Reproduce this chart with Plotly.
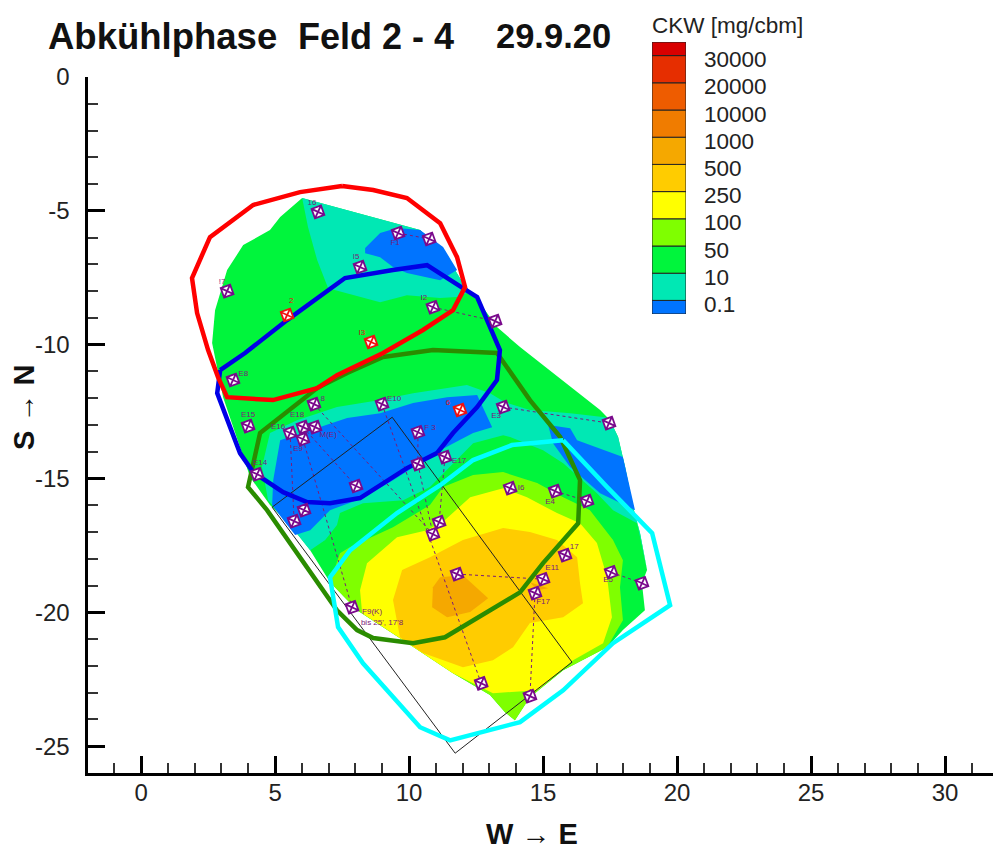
import plotly.graph_objects as go

FONT = "Liberation Sans"
W, H = 993, 854

# filled contour regions, painted from outer to inner
region_50 = ([6.01,7.91,9.40,10.41,11.42,12.01,12.65,13.28,14.14,17.13,17.50,17.80,18.06,18.36,18.62,18.88,18.69,18.80,17.98,17.39,15.75,14.51,13.95,13.58,13.02,11.64,9.78,8.06,7.05,6.31,5.56,4.81,4.07,3.69,3.06,2.65,2.76,3.21,3.81,4.81,5.19],
             [-4.52,-5.04,-5.42,-5.72,-6.73,-7.70,-8.45,-9.34,-10.09,-12.44,-12.82,-13.45,-14.57,-16.07,-17.04,-18.42,-18.91,-19.92,-20.66,-21.30,-22.16,-23.17,-24.03,-23.73,-23.09,-22.27,-21.04,-19.92,-18.87,-17.68,-16.74,-15.99,-14.95,-13.83,-11.96,-9.94,-8.71,-7.21,-6.28,-5.72,-5.23])
region_10_north = ([6.01,7.91,9.40,10.41,11.42,12.01,12.57,12.16,11.79,11.16,9.92,8.92,6.98,6.57,6.23],
                   [-4.52,-5.04,-5.42,-5.72,-6.73,-7.70,-8.33,-8.07,-8.22,-8.26,-8.15,-8.41,-7.89,-6.84,-5.61])
region_01_north = ([8.36,8.92,9.55,10.41,11.27,11.79,11.16,9.92,9.40,8.92,8.36],
                   [-6.39,-5.83,-5.64,-5.72,-6.35,-7.21,-7.59,-7.32,-7.10,-6.73,-6.58])
region_10_mid = ([4.74,4.51,4.81,5.82,7.31,8.92,10.15,12.16,13.02,13.58,14.51,16.01,17.31,17.50,17.80,18.06,18.36,18.62,18.88,18.51,17.61,17.01,15.75,15.00,13.77,13.51,12.39,11.53,10.78,9.78,8.28,7.42,7.31,6.87,6.31,5.56],
                 [-15.81,-14.57,-13.30,-12.82,-12.33,-12.07,-11.81,-11.51,-11.81,-12.15,-12.44,-12.56,-12.71,-12.82,-13.45,-14.57,-16.07,-17.04,-18.42,-16.67,-16.18,-15.55,-14.43,-13.94,-13.45,-13.38,-13.68,-14.57,-15.32,-15.81,-15.92,-16.29,-16.74,-17.30,-17.68,-16.74])
region_01_mid = ([4.89,4.93,5.19,5.56,6.68,7.69,8.92,10.15,11.42,12.54,13.10,12.39,11.16,10.41,9.40,8.28,7.05,6.31,5.75,5.37],
                 [-15.99,-15.06,-13.57,-13.45,-13.08,-12.74,-12.56,-12.18,-11.96,-11.88,-13.08,-13.30,-13.94,-14.43,-15.06,-15.73,-16.18,-16.93,-17.11,-16.63])
region_01_east = ([15.19,16.01,16.27,17.98,18.43,17.13,16.01,15.37],
                  [-13.00,-13.12,-13.57,-14.20,-16.18,-15.55,-14.57,-13.68])
region_100 = ([7.05,7.42,7.80,9.40,10.78,11.27,12.39,13.51,14.78,15.75,16.75,17.61,17.98,17.87,17.98,17.39,15.75,14.51,13.95,13.58,13.02,11.64,9.78,8.06],
              [-18.87,-17.79,-17.56,-16.82,-15.99,-15.32,-14.87,-14.76,-15.17,-15.70,-16.18,-17.30,-18.05,-19.06,-20.29,-21.30,-22.16,-23.17,-24.03,-23.73,-23.09,-22.27,-21.04,-19.92])
region_250 = ([8.17,8.43,9.55,10.67,11.34,12.28,13.51,14.40,15.52,16.38,17.01,17.39,17.57,17.24,16.12,14.78,13.13,11.64,9.78,8.25],
              [-19.17,-18.16,-17.19,-16.93,-16.55,-15.70,-15.36,-15.70,-16.29,-16.67,-17.41,-18.69,-20.18,-21.15,-21.79,-22.91,-23.02,-22.27,-21.04,-20.03])
region_500 = ([9.40,9.74,10.78,12.01,13.51,14.51,15.52,16.27,16.38,16.49,15.75,14.51,13.88,13.13,12.01,10.52,9.66],
              [-19.54,-18.42,-17.94,-17.30,-16.85,-17.00,-17.30,-17.94,-18.91,-19.66,-20.18,-20.40,-21.30,-21.79,-22.05,-21.52,-20.93])
region_1000 = ([10.89,11.16,12.01,12.95,12.28,11.42,10.86],
               [-19.06,-18.69,-18.61,-19.47,-19.99,-20.18,-19.81])
region_1000_small = ([14.51,15.19,14.78], [-18.87,-19.10,-19.17])

# outlines
outline_red = ([7.50,5.93,4.18,2.57,1.90,2.09,2.50,2.87,3.21,4.92,6.57,7.31,9.03,10.52,11.64,12.09,11.79,11.16,9.92,8.66,7.50],
               [-4.07,-4.30,-4.78,-5.98,-7.51,-8.82,-10.20,-11.21,-11.96,-12.07,-11.62,-11.14,-10.31,-9.45,-8.71,-7.85,-6.73,-5.46,-4.52,-4.22,-4.07])
outline_blue = ([2.95,3.88,5.45,6.94,7.61,9.40,10.67,12.01,12.54,13.39,13.28,12.54,11.64,11.04,9.92,8.17,7.05,6.19,5.30,4.18,3.69,2.84,2.95],
                [-10.95,-10.31,-9.08,-8.03,-7.51,-7.21,-7.03,-7.89,-8.22,-10.20,-11.32,-12.33,-13.30,-14.05,-14.61,-15.73,-15.92,-15.88,-15.51,-14.76,-14.05,-11.81,-10.95])
outline_green = ([9.03,10.89,13.28,14.14,14.51,15.64,16.38,16.31,15.00,14.14,11.34,10.15,8.66,8.06,7.31,4.70,3.99,4.44,5.56,6.57,7.69,9.03],
                 [-10.46,-10.20,-10.31,-11.58,-12.07,-13.45,-15.06,-16.67,-18.16,-19.25,-20.93,-21.15,-20.96,-20.66,-19.92,-16.18,-15.32,-13.30,-12.44,-11.62,-11.06,-10.46])
outline_cyan = ([15.75,13.84,12.39,11.16,9.55,7.80,7.05,7.35,8.28,9.40,10.41,11.53,14.14,15.75,17.61,19.74,19.07,17.39,15.75],
                [-13.57,-13.75,-14.31,-15.25,-16.29,-17.68,-18.69,-20.55,-21.90,-23.17,-24.29,-24.78,-24.10,-22.91,-21.15,-19.73,-17.04,-15.32,-13.57])
field_rect = ([9.37,16.08,11.72,4.89,9.37], [-12.71,-21.86,-25.26,-16.07,-12.71])

# measuring points
wells_x = [6.60,3.21,8.17,9.59,10.75,10.89,13.21,3.43,6.45,8.99,13.51,10.33,3.99,5.56,6.04,6.49,6.04,4.33,8.02,10.33,11.34,6.08,5.71,13.77,15.45,16.64,17.46,11.12,10.89,11.79,15.82,15.00,14.70,17.54,18.69,7.87,12.69,14.51]
wells_y = [-5.04,-8.00,-7.10,-5.83,-6.05,-8.60,-9.12,-11.32,-12.22,-12.22,-12.33,-13.27,-13.04,-13.30,-13.08,-13.08,-13.53,-14.84,-15.28,-14.46,-14.20,-16.18,-16.59,-15.36,-15.47,-15.84,-12.93,-16.63,-17.08,-18.57,-17.86,-18.76,-19.28,-18.50,-18.91,-19.81,-22.65,-23.13]
red_wells_x = [5.45,8.58,11.90]
red_wells_y = [-8.89,-9.90,-12.44]

well_labels = ["16","!7","I5","F1","I2","E8","8","E10","E3","F 3","E15","E16","E18","M(E)","E9","E14","E17","I6","E4","17","E11","F17","E5","F9(K)","bis 25', 17'8"]
well_labels_x = [6.38,3.02,8.02,9.48,10.55,3.81,6.78,9.44,13.25,10.78,3.99,5.11,5.82,6.98,5.86,4.44,11.87,14.18,15.26,16.16,15.34,15.00,17.43,8.62,8.99]
well_labels_y = [-4.71,-7.66,-6.73,-6.20,-8.26,-11.10,-12.03,-12.03,-12.67,-13.12,-12.63,-13.08,-12.63,-13.38,-13.90,-14.42,-14.35,-15.36,-15.88,-17.56,-18.35,-19.62,-18.80,-19.99,-20.40]
red_labels = ["2","I3","6"]
red_labels_x = [5.60,8.24,11.45]
red_labels_y = [-8.37,-9.57,-12.18]

# dotted connectors between measuring points, None separated
link_x = [6.45,10.89,None,8.99,12.69,None,10.33,10.33,None,11.34,11.12,None,13.51,17.46,None,10.89,13.21,None,9.59,10.75,None,15.45,16.64,None,11.79,15.00,None,17.54,18.69,None,14.70,14.51,None,6.04,8.02,None,5.56,5.71,None,6.04,7.87,None,10.33,10.89]
link_y = [-12.22,-17.08,None,-12.22,-22.65,None,-13.27,-14.46,None,-14.20,-16.63,None,-12.33,-12.93,None,-8.60,-9.12,None,-5.83,-6.05,None,-15.47,-15.84,None,-18.57,-18.76,None,-18.50,-18.91,None,-19.28,-23.13,None,-13.08,-15.28,None,-13.30,-16.59,None,-13.53,-19.81,None,-14.46,-17.08]

# axis ticks
x_ticks = [0,5,10,15,20,25,30]
x_tick_text = ["0","5","10","15","20","25","30"]
y_ticks = [0,-5,-10,-15,-20,-25]
y_tick_text = ["0","-5","-10","-15","-20","-25"]

# legend
legend_colors = ["#0074FF","#00E8B4","#00F53C","#7FFF00","#FFFF00","#FFCC00","#F5A800","#F07C00","#EE5C00","#E62E00","#D90000"]
legend_heights = [0.5,1,1,1,1,1,1,1,1,1,0.5]
legend_bases = [0,0.5,1.5,2.5,3.5,4.5,5.5,6.5,7.5,8.5,9.5]
legend_labels = ["0.1","10","50","100","250","500","1000","10000","20000","30000"]
legend_label_pos = [0.5,1.5,2.5,3.5,4.5,5.5,6.5,7.5,8.5,9.5]

C_BLUE, C_TEAL, C_GREEN, C_LIME, C_YEL, C_GOLD, C_ORG = legend_colors[:7]
fills = [(region_50,C_GREEN),(region_10_north,C_TEAL),(region_01_north,C_BLUE),(region_10_mid,C_TEAL),
         (region_01_mid,C_BLUE),(region_01_east,C_BLUE),(region_100,C_LIME),(region_250,C_YEL),
         (region_500,C_GOLD),(region_1000,C_ORG),(region_1000_small,C_ORG)]

fig = go.Figure()
for (xs, ys), col in fills:
    fig.add_trace(go.Scatter(x=xs, y=ys, mode="lines", fill="toself", fillcolor=col,
                             line=dict(width=0, color=col), hoverinfo="skip", showlegend=False))
fig.add_trace(go.Scatter(x=link_x, y=link_y, mode="lines", line=dict(color="#7A1A7A", width=1, dash="dot"),
                         showlegend=False, connectgaps=False))
fig.add_trace(go.Scatter(x=field_rect[0], y=field_rect[1], mode="lines", line=dict(color="#222222", width=1), showlegend=False))
for (xs, ys), col in [(outline_green,"#2A8C00"),(outline_cyan,"#00FFFF"),(outline_blue,"#0000E6"),(outline_red,"#FF0000")]:
    fig.add_trace(go.Scatter(x=xs, y=ys, mode="lines", line=dict(color=col, width=4.5), showlegend=False))
fig.add_trace(go.Scatter(x=wells_x, y=wells_y, mode="markers", showlegend=False,
                         marker=dict(symbol="square-x", size=10, color="white", angle=-20, line=dict(color="#7A0A8C", width=1.8))))
fig.add_trace(go.Scatter(x=red_wells_x, y=red_wells_y, mode="markers", showlegend=False,
                         marker=dict(symbol="square-x", size=10, color="white", angle=-20, line=dict(color="#F01010", width=1.8))))
fig.add_trace(go.Scatter(x=well_labels_x, y=well_labels_y, mode="text", text=well_labels, showlegend=False,
                         textfont=dict(family=FONT, size=8, color="#7A1A7A")))
fig.add_trace(go.Scatter(x=red_labels_x, y=red_labels_y, mode="text", text=red_labels, showlegend=False,
                         textfont=dict(family=FONT, size=8, color="#E01010")))

fig.add_trace(go.Bar(x=[0]*len(legend_heights), y=legend_heights, base=legend_bases, xaxis="x2", yaxis="y2",
                     width=1, marker=dict(color=legend_colors, line=dict(color="#222222", width=1)),
                     showlegend=False, hoverinfo="skip"))

annotations = []
for lab, pos in zip(legend_labels, legend_label_pos):
    annotations.append(dict(text=lab, xref="paper", yref="y2", x=702/W, y=pos, yshift=-4, xanchor="left",
                            yanchor="middle", showarrow=False, font=dict(family=FONT, size=22.5, color="#222222")))
annotations.append(dict(text="CKW [mg/cbm]", xref="paper", yref="paper", x=650/W, y=1-25/H, xanchor="left",
                        yanchor="middle", showarrow=False, font=dict(family=FONT, size=22.5, color="#222222")))
for txt, px, fs in [("Abkühlphase", 46, 36.5), ("Feld 2 - 4", 296, 36), ("29.9.20", 494, 34.5)]:
    annotations.append(dict(text=f"<b>{txt}</b>", xref="paper", yref="paper", x=px/W, y=1-36/H, xanchor="left",
                            yanchor="middle", showarrow=False, font=dict(family=FONT, size=fs, color="#111111")))
annotations.append(dict(text="<b>W → E</b>", xref="paper", yref="paper", x=532/W, y=1-834/H, xanchor="center",
                        yanchor="middle", showarrow=False, font=dict(family=FONT, size=29, color="#111111")))
annotations.append(dict(text="<b>S → N</b>", xref="paper", yref="paper", x=24/W, y=1-408/H, xanchor="center",
                        yanchor="middle", textangle=-90, showarrow=False, font=dict(family=FONT, size=29, color="#111111")))

axis_common = dict(showgrid=False, zeroline=False, showline=True, linecolor="black", linewidth=3,
                   ticks="inside", ticklen=17, tickwidth=3, tickcolor="black", tickmode="array",
                   tickfont=dict(family=FONT, size=24, color="#222222"),
                   minor=dict(ticks="inside", ticklen=10, tickwidth=1.5, tickcolor="#333333", dtick=1, showgrid=False))

fig.update_layout(
    width=W, height=H, autosize=False, margin=dict(l=0, r=0, t=0, b=0, autoexpand=False),
    paper_bgcolor="white", plot_bgcolor="white", annotations=annotations, barmode="overlay",
    xaxis=dict(domain=[87.5/W, 1], range=[-2, 31.79], anchor="y", tickvals=x_ticks, ticktext=x_tick_text,
               ticklabelstandoff=-4, **axis_common),
    yaxis=dict(domain=[(H-773)/H, (H-77)/H], range=[-26, 0], anchor="x", tickvals=y_ticks, ticktext=y_tick_text,
               ticklabelstandoff=10, **axis_common),
    xaxis2=dict(domain=[652/W, 686/W], range=[-0.5, 0.5], anchor="y2", visible=False, fixedrange=True),
    yaxis2=dict(domain=[(H-314)/H, (H-42)/H], range=[0, 10], anchor="x2", visible=False, fixedrange=True),
)
fig.write_html("out.html", config={"displayModeBar": False},
               post_script="document.body.style.margin='0';document.body.style.overflow='hidden';")
